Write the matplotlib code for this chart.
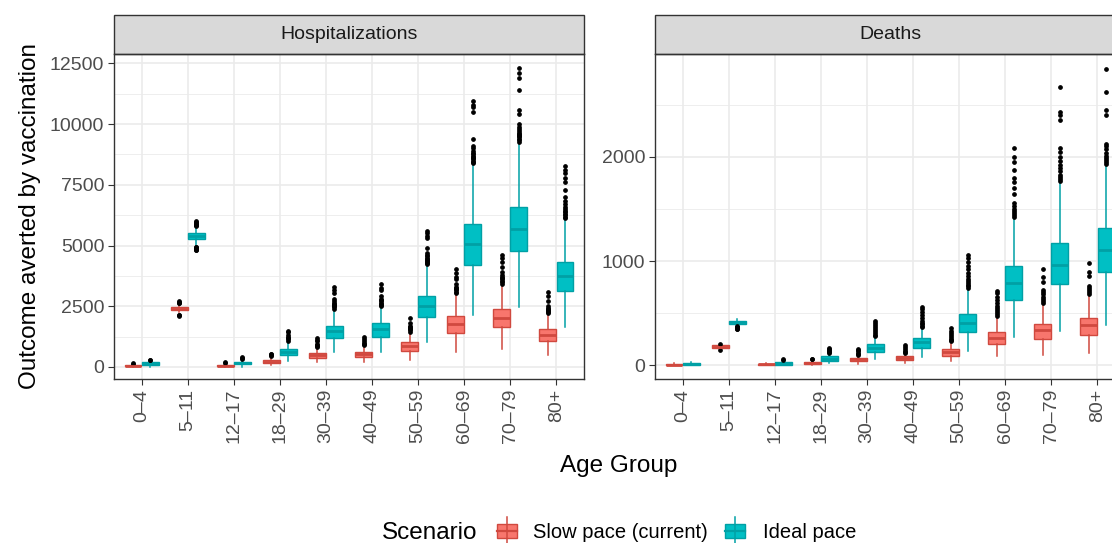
import numpy as np
import matplotlib.pyplot as plt
from matplotlib.patches import Rectangle

plt.rcParams['font.family'] = ['Liberation Sans', 'DejaVu Sans']

age_groups = ['0–4', '5–11', '12–17', '18–29', '30–39', '40–49', '50–59', '60–69', '70–79', '80+']
scenarios = ['Slow pace (current)', 'Ideal pace']

# ---- Hospitalizations ----
hosp_slow_med = [40, 2400, 50, 210, 480, 510, 860, 1770, 2030, 1320]
hosp_slow_q1 = [20, 2350, 20, 140, 370, 390, 660, 1410, 1630, 1060]
hosp_slow_q3 = [65, 2460, 90, 275, 590, 620, 1020, 2100, 2370, 1545]
hosp_slow_lo = [0, 2240, 0, 60, 200, 200, 300, 620, 720, 480]
hosp_slow_hi = [110, 2560, 150, 430, 800, 860, 1420, 3010, 3380, 2180]
hosp_slow_out = [
    [125, 140],
    [2620, 2650, 2690, 2730, 2150, 2120, 2100],
    [170, 190],
    [460, 490, 520, 550],
    [830, 860, 900, 950, 1050, 1100, 1200],
    [900, 940, 990, 1050, 1150, 1240],
    [1450, 1500, 1550, 1600, 1650, 1700, 1820, 2000],
    [3050, 3100, 3150, 3200, 3250, 3300, 3400, 3600, 3700, 3850, 4030],
    [3420, 3480, 3540, 3600, 3660, 3720, 3800, 3900, 4100, 4300, 4500, 4620],
    [2220, 2260, 2300, 2340, 2380, 2420, 2500, 2700, 2900, 3080],
]
hosp_ideal_med = [120, 5400, 150, 600, 1480, 1550, 2510, 5050, 5660, 3740]
hosp_ideal_q1 = [70, 5285, 100, 480, 1190, 1240, 2040, 4210, 4760, 3130]
hosp_ideal_q3 = [180, 5520, 210, 720, 1700, 1800, 2930, 5890, 6570, 4320]
hosp_ideal_lo = [0, 4970, 0, 250, 620, 620, 1035, 2140, 2480, 1630]
hosp_ideal_hi = [260, 5770, 320, 1035, 2350, 2480, 4170, 8350, 9220, 6070]
hosp_ideal_out = [
    [280, 300],
    [5800, 5830, 5860, 5900, 5940, 5980, 6000, 4950, 4920, 4890, 4860, 4830, 4800],
    [340, 370, 400],
    [1080, 1130, 1180, 1250, 1330, 1420, 1480],
    [2400, 2450, 2500, 2550, 2600, 2650, 2700, 2800, 3050, 3150, 3280],
    [2520, 2560, 2600, 2650, 2700, 2750, 2800, 2900, 3150, 3250, 3400],
    [4220, 4260, 4300, 4350, 4400, 4450, 4500, 4550, 4600, 4700, 4900, 5300, 5400, 5500, 5590],
    [8400, 8450, 8500, 8550, 8600, 8650, 8700, 8750, 8800, 8900, 9000, 9100, 9400,
     10500, 10700, 10800, 10950],
    [9280, 9350, 9400, 9450, 9500, 9550, 9600, 9650, 9700, 9800, 9900, 10000, 10400,
     10600, 11400, 11900, 12100, 12310],
    [6120, 6180, 6240, 6300, 6360, 6420, 6500, 6600, 6700, 6850, 7000, 7300, 7600,
     7800, 8000, 8100, 8280],
]

# ---- Deaths ----
death_slow_med = [5, 180, 10, 22, 57, 70, 127, 264, 341, 388]
death_slow_q1 = [0, 168, 2, 12, 38, 48, 95, 204, 255, 296]
death_slow_q3 = [12, 192, 18, 36, 73, 89, 159, 318, 401, 452]
death_slow_lo = [0, 155, 0, 0, 16, 25, 45, 86, 102, 121]
death_slow_hi = [20, 205, 28, 55, 95, 111, 223, 462, 589, 669]
death_slow_out = [
    [],
    [210, 150],
    [],
    [60, 65],
    [100, 110, 120, 135, 150, 160],
    [115, 125, 140, 160, 180, 197],
    [230, 240, 255, 270, 290, 310, 330, 357],
    [470, 490, 510, 530, 550, 570, 600, 630, 660, 690, 710],
    [600, 620, 640, 660, 680, 700, 720, 800, 850, 923],
    [680, 700, 720, 740, 760, 860, 900, 981],
]
death_ideal_med = [10, 413, 18, 64, 166, 223, 408, 786, 965, 1105]
death_ideal_q1 = [5, 398, 6, 45, 127, 169, 318, 630, 777, 892]
death_ideal_q3 = [20, 427, 32, 86, 204, 261, 490, 949, 1178, 1315]
death_ideal_lo = [0, 388, 0, 22, 64, 80, 143, 277, 334, 388]
death_ideal_hi = [30, 445, 50, 111, 270, 357, 732, 1407, 1758, 1917]
death_ideal_out = [
    [],
    [380, 372, 365, 358, 350, 345],
    [55, 60],
    [115, 125, 135, 145, 155, 165],
    [280, 295, 310, 330, 350, 370, 390, 410, 430],
    [365, 380, 395, 410, 430, 450, 480, 510, 540, 560],
    [745, 760, 775, 790, 810, 830, 860, 890, 920, 950, 990, 1030, 1060],
    [1420, 1440, 1460, 1480, 1500, 1530, 1560, 1640, 1700, 1760, 1800, 1870, 1950, 2000, 2080],
    [1770, 1790, 1810, 1830, 1860, 1890, 1920, 1960, 2000, 2050, 2080, 2350, 2400, 2430, 2670],
    [1930, 1950, 1970, 1990, 2010, 2040, 2070, 2100, 2120, 2400, 2450, 2620, 2840],
]

fills = ['#F8766D', '#00BFC4']
edges = ['#D0493F', '#00A0A5']
grey = '#4D4D4D'
dark = '#333333'

W, H = 1112, 543
fig = plt.figure(figsize=(W / 100, H / 100), dpi=100)


def px_axes(x0, y0, x1, y1):
    return fig.add_axes([x0 / W, 1 - y1 / H, (x1 - x0) / W, (y1 - y0) / H])


def make_stats(med, q1, q3, lo, hi, out):
    return [dict(med=m, q1=a, q3=b, whislo=l, whishi=h, fliers=np.array(o, dtype=float))
            for m, a, b, l, h, o in zip(med, q1, q3, lo, hi, out)]


def panel(ax, series, title, ylim, yticks, yminor):
    pos = np.arange(1, len(age_groups) + 1)
    bw = 0.37
    for k, st in enumerate(series):
        off = (k - 0.5) * bw
        ax.bxp(st, positions=pos + off, widths=bw * 0.98, patch_artist=True,
               showcaps=False, manage_ticks=False,
               boxprops=dict(facecolor=fills[k], edgecolor=edges[k], linewidth=1.0),
               medianprops=dict(color=edges[k], linewidth=2.0),
               whiskerprops=dict(color=edges[k], linewidth=1.1),
               flierprops=dict(marker='o', markerfacecolor='black', markeredgecolor='black',
                               markersize=2.4, linestyle='none'))
    ax.set_xlim(0.4, 10.6)
    ax.set_ylim(*ylim)
    ax.set_xticks(pos)
    ax.set_xticklabels(age_groups, rotation=90, color=grey, fontsize=14)
    ax.set_yticks(yticks)
    ax.set_yticklabels([str(t) for t in yticks], color=grey, fontsize=14)
    ax.set_yticks(yminor, minor=True)
    ax.tick_params(axis='both', which='major', length=4, width=0.8, color=dark, pad=3)
    ax.tick_params(axis='y', which='minor', length=0)
    ax.grid(True, which='major', color='#EBEBEB', linewidth=1.2)
    ax.grid(True, which='minor', axis='y', color='#EBEBEB', linewidth=0.6)
    ax.set_axisbelow(True)
    for s in ax.spines.values():
        s.set_color(dark)
        s.set_linewidth(1.0)
    sh = 39 / 325
    ax.add_patch(Rectangle((0, 1), 1, sh, transform=ax.transAxes, clip_on=False,
                           facecolor='#D9D9D9', edgecolor=dark, linewidth=1.0))
    ax.text(0.5, 1 + sh / 2, title, transform=ax.transAxes, ha='center', va='center',
            fontsize=14, color='#1A1A1A')


ax_h = px_axes(114, 54, 584, 379)
ax_d = px_axes(655, 54, 1125, 379)

hosp = [make_stats(hosp_slow_med, hosp_slow_q1, hosp_slow_q3, hosp_slow_lo, hosp_slow_hi, hosp_slow_out),
        make_stats(hosp_ideal_med, hosp_ideal_q1, hosp_ideal_q3, hosp_ideal_lo, hosp_ideal_hi, hosp_ideal_out)]
death = [make_stats(death_slow_med, death_slow_q1, death_slow_q3, death_slow_lo, death_slow_hi, death_slow_out),
         make_stats(death_ideal_med, death_ideal_q1, death_ideal_q3, death_ideal_lo, death_ideal_hi, death_ideal_out)]

panel(ax_h, hosp, 'Hospitalizations', (-500, 12890),
      [0, 2500, 5000, 7500, 10000, 12500], [1250, 3750, 6250, 8750, 11250])
panel(ax_d, death, 'Deaths', (-130, 2985), [0, 1000, 2000], [500, 1500, 2500])

fig.text(30 / W, 1 - 216 / H, 'Outcome averted by vaccination', rotation=90,
         ha='center', va='center', fontsize=17.5)
fig.text(619 / W, 1 - 466 / H, 'Age Group', ha='center', va='center', fontsize=17.5)

# legend (bottom, horizontal, ggplot style)
lax = fig.add_axes([0, 0, 1, 1])
lax.set_xlim(0, W)
lax.set_ylim(H, 0)
lax.axis('off')
lax.text(382, 533, 'Scenario', ha='left', va='center', fontsize=17.5)
keys = [(497, 533), (725, 763)]
for k, (kx, tx) in enumerate(keys):
    lax.plot([kx + 10, kx + 10], [517, 543], color=edges[k], linewidth=1.1, clip_on=False)
    lax.add_patch(Rectangle((kx, 524), 20, 14, facecolor=fills[k], edgecolor=edges[k], linewidth=1.0))
    lax.plot([kx, kx + 20], [531, 531], color=edges[k], linewidth=1.6)
    lax.text(tx, 533, scenarios[k], ha='left', va='center', fontsize=14.5)

fig.savefig('out.png', dpi=100)
